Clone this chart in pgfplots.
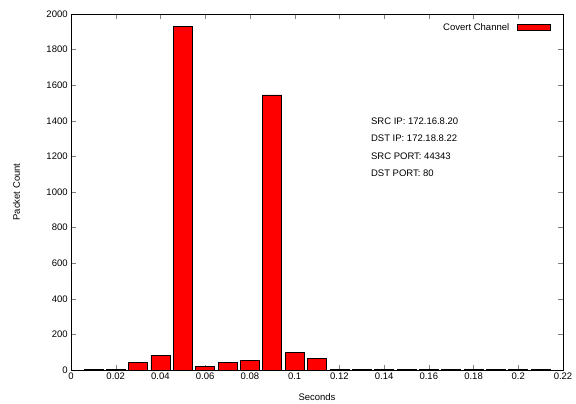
\documentclass[border=0pt]{standalone}
\usepackage{fontspec}
\setmainfont{Liberation Sans}
\usepackage{pgfplots}
\pgfplotsset{compat=1.18}

\begin{document}
\fontsize{9.5}{11}\selectfont
\begin{tikzpicture}
\begin{axis}[
  scale only axis, width=492pt, height=356pt,
  xmin=0, xmax=0.22, ymin=0, ymax=2000,
  xtick={0,0.02,...,0.221}, ytick={0,200,...,2000},
  xticklabels={0,0.02,0.04,0.06,0.08,0.1,0.12,0.14,0.16,0.18,0.2,0.22},
  /pgf/number format/set thousands separator={},
  /pgf/number format/assume math mode=true,
  tick label style={font=\fontsize{9.5}{11}\selectfont},
  label style={font=\fontsize{9.5}{11}\selectfont},
  xlabel={Seconds}, ylabel={Packet Count},
  xlabel style={yshift=-7pt}, ylabel style={yshift=20pt},
  tick align=inside, major tick length=5pt,
  axis line style={line width=0.9pt},
  legend style={draw=none, fill=none, at={(0.982,0.985)}, anchor=north east,
    font=\fontsize{9.5}{11}\selectfont,
    /tikz/every odd column/.style={column sep=6pt}},
  legend plot pos=right,
  legend image code/.code={\draw[#1] (0pt,-3pt) rectangle (33pt,3pt);},
]
\addplot[ybar, bar width=0.0085, bar shift=0pt, fill=red, draw=black, line width=0.7pt]
coordinates {
(0.01,2) (0.02,2) (0.03,43) (0.04,80) (0.05,1930) (0.06,20) (0.07,41)
(0.08,56) (0.09,1545) (0.10,99) (0.11,67) (0.12,1) (0.13,1) (0.14,1)
(0.15,1) (0.16,1) (0.17,1) (0.18,1) (0.19,1) (0.20,1) (0.21,1)
};
\addlegendentry{Covert Channel}
\node[anchor=north west, align=left, inner sep=0pt,
  font=\fontsize{9.5}{17.5}\selectfont] at (axis cs:0.1341,1418)
  {SRC IP: 172.16.8.20\\DST IP: 172.18.8.22\\SRC PORT: 44343\\DST PORT: 80};
\end{axis}
\path[use as bounding box] (-71pt,-33pt) rectangle (505pt,370pt);
\end{tikzpicture}
\end{document}
